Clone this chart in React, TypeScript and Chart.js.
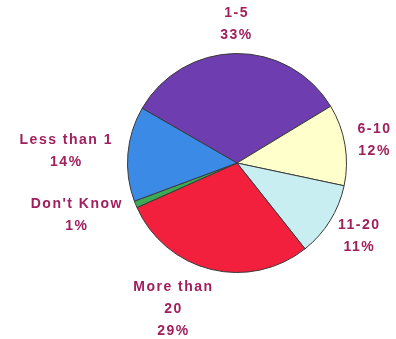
import React, { useEffect, useRef } from "react";
import { Chart, registerables } from "chart.js";

Chart.register(...registerables);

const categories = ["1-5", "6-10", "11-20", "More than 20", "Don't Know", "Less than 1"];
const values = [33, 12, 11, 29, 1, 14];
const labelLines = [["1-5"], ["6-10"], ["11-20"], ["More than", "20"], ["Don't Know"], ["Less than 1"]];
const colors = ["#6E3DB0", "#FFFFCC", "#C8EEF2", "#F2203C", "#3CAA55", "#3A8AE6"];
const labelNudgeX = [0, 0, 0, -26, -6, -4];

const labelPlugin = {
  id: "outerLabels",
  afterDraw(chart: any) {
    const ctx = chart.ctx;
    const meta = chart.getDatasetMeta(0);
    const data = chart.data.datasets[0].data as number[];
    const total = data.reduce((a: number, b: number) => a + b, 0);
    ctx.save();
    ctx.font = "bold 14px 'Liberation Sans', Arial, sans-serif";
    (ctx as any).letterSpacing = "1.5px";
    ctx.fillStyle = "#A0205E";
    ctx.textAlign = "center";
    ctx.textBaseline = "middle";
    const lineH = 22;
    meta.data.forEach((arc: any, i: number) => {
      const p = arc.getProps(["x", "y", "startAngle", "endAngle", "outerRadius"], true);
      const mid = (p.startAngle + p.endAngle) / 2;
      const pct = Math.round((data[i] / total) * 100) + "%";
      const lines = [...labelLines[i], pct];
      let w = 0;
      lines.forEach((l) => (w = Math.max(w, ctx.measureText(l).width)));
      const h = lines.length * lineH - 9;
      const pad = 12;
      const cos = Math.cos(mid);
      const sin = Math.sin(mid);
      const cx = p.x + (p.outerRadius + pad) * cos + (w / 2) * cos + labelNudgeX[i];
      const cy = p.y + (p.outerRadius + pad) * sin + (h / 2) * sin;
      const y0 = cy - ((lines.length - 1) * lineH) / 2;
      lines.forEach((l, k) => {
        ctx.fillText(l, cx + 1, y0 + k * lineH);
      });
    });
    ctx.restore();
  },
};

export default function App() {
  const ref = useRef<HTMLCanvasElement | null>(null);
  useEffect(() => {
    document.body.style.margin = "0";
    const chart = new Chart(ref.current!, {
      type: "pie",
      data: {
        labels: categories,
        datasets: [
          {
            data: values,
            backgroundColor: colors,
            borderColor: "#3a3a3a",
            borderWidth: 1,
          },
        ],
      },
      options: {
        responsive: false,
        animation: false,
        rotation: -60,
        layout: { padding: { top: 53, bottom: 66, left: 127, right: 49 } },
        plugins: {
          legend: { display: false },
          tooltip: { enabled: false },
        },
      },
      plugins: [labelPlugin],
    });
    return () => chart.destroy();
  }, []);
  return (
    <div style={{ width: 396, height: 339, background: "#fff" }}>
      <canvas ref={ref} width={396} height={339} />
    </div>
  );
}
